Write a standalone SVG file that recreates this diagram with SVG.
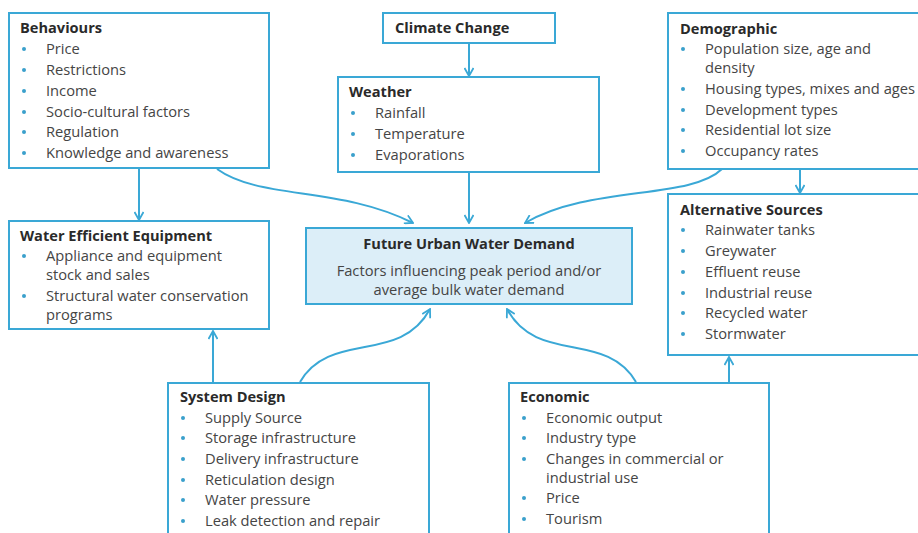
<svg xmlns="http://www.w3.org/2000/svg" width="918" height="533" viewBox="0 0 918 533">
<defs>
<style>
.box{fill:#ffffff;stroke:#3aa8d6;stroke-width:2}
.main{fill:#dceef8;stroke:#3aa8d6;stroke-width:2}
.t{font-family:"Open Sans","Liberation Sans",sans-serif;font-size:14.6px;font-weight:bold;fill:#2a2a2a}
.i{font-family:"Open Sans","Liberation Sans",sans-serif;font-size:14.7px;fill:#454545}
.c{text-anchor:middle}
.b{fill:#3aa0cc}
.con{fill:none;stroke:#3aa8d6;stroke-width:2}
</style>
<marker id="ah" viewBox="0 0 10 10" refX="9" refY="5" markerWidth="10" markerHeight="10" markerUnits="userSpaceOnUse" orient="auto">
<path d="M1,0.5 L9,5 L1,9.5" fill="none" stroke="#3aa8d6" stroke-width="1.8"/>
</marker>
</defs>
<rect width="918" height="533" fill="#ffffff"/>

<g id="connectors">
<line class="con" x1="469" y1="43" x2="469" y2="76" marker-end="url(#ah)"/>
<line class="con" x1="139" y1="168" x2="139" y2="220" marker-end="url(#ah)"/>
<line class="con" x1="800" y1="169" x2="800" y2="193" marker-end="url(#ah)"/>
<line class="con" x1="469" y1="172" x2="469" y2="223" marker-end="url(#ah)"/>
<path class="con" d="M217,169 C260,200 340,186 413,223" marker-end="url(#ah)"/>
<path class="con" d="M722,169 C690,200 590,185 525,223" marker-end="url(#ah)"/>
<path class="con" d="M300,382 C330,330 400,365 430,309" marker-end="url(#ah)"/>
<path class="con" d="M636,382 C606,330 537,365 507,309" marker-end="url(#ah)"/>
<line class="con" x1="213" y1="382" x2="213" y2="331" marker-end="url(#ah)"/>
<line class="con" x1="729" y1="382" x2="729" y2="357" marker-end="url(#ah)"/>
</g>

<g id="behaviours">
<rect class="box" x="9" y="13" width="260" height="155"/>
<text class="t" x="20" y="33">Behaviours</text>
<g class="b"><circle cx="24" cy="49" r="2"/><circle cx="24" cy="70" r="2"/><circle cx="24" cy="91" r="2"/><circle cx="24" cy="112" r="2"/><circle cx="24" cy="132" r="2"/><circle cx="24" cy="153" r="2"/></g>
<text class="i" x="46" y="54">Price</text>
<text class="i" x="46" y="75">Restrictions</text>
<text class="i" x="46" y="96">Income</text>
<text class="i" x="46" y="117">Socio-cultural factors</text>
<text class="i" x="46" y="137">Regulation</text>
<text class="i" x="46" y="158">Knowledge and awareness</text>
</g>

<g id="climate">
<rect class="box" x="383" y="13" width="172" height="30"/>
<text class="t" x="395" y="33">Climate Change</text>
</g>

<g id="weather">
<rect class="box" x="338" y="77" width="261" height="95"/>
<text class="t" x="349" y="97">Weather</text>
<g class="b"><circle cx="353" cy="113" r="2"/><circle cx="353" cy="134" r="2"/><circle cx="353" cy="155" r="2"/></g>
<text class="i" x="375" y="118">Rainfall</text>
<text class="i" x="375" y="139">Temperature</text>
<text class="i" x="375" y="160">Evaporations</text>
</g>

<g id="demographic">
<rect class="box" x="668" y="13" width="262" height="156"/>
<text class="t" x="680" y="34">Demographic</text>
<g class="b"><circle cx="683" cy="49" r="2"/><circle cx="683" cy="89" r="2"/><circle cx="683" cy="110" r="2"/><circle cx="683" cy="130" r="2"/><circle cx="683" cy="151" r="2"/></g>
<text class="i" x="705" y="54">Population size, age and</text>
<text class="i" x="705" y="73">density</text>
<text class="i" x="705" y="94">Housing types, mixes and ages</text>
<text class="i" x="705" y="115">Development types</text>
<text class="i" x="705" y="135">Residential lot size</text>
<text class="i" x="705" y="156">Occupancy rates</text>
</g>

<g id="water-efficient">
<rect class="box" x="9" y="221" width="260" height="108"/>
<text class="t" x="20" y="241">Water Efficient Equipment</text>
<g class="b"><circle cx="24" cy="256" r="2"/><circle cx="24" cy="296" r="2"/></g>
<text class="i" x="46" y="261">Appliance and equipment</text>
<text class="i" x="46" y="280">stock and sales</text>
<text class="i" x="46" y="301">Structural water conservation</text>
<text class="i" x="46" y="320">programs</text>
</g>

<g id="future-demand">
<rect class="main" x="306" y="228" width="326" height="76"/>
<text class="t c" x="469" y="249">Future Urban Water Demand</text>
<text class="i c" x="469" y="276">Factors influencing peak period and/or</text>
<text class="i c" x="469" y="295">average bulk water demand</text>
</g>

<g id="alternative">
<rect class="box" x="668" y="194" width="262" height="161"/>
<text class="t" x="680" y="215">Alternative Sources</text>
<g class="b"><circle cx="683" cy="230" r="2"/><circle cx="683" cy="251" r="2"/><circle cx="683" cy="272" r="2"/><circle cx="683" cy="293" r="2"/><circle cx="683" cy="313" r="2"/><circle cx="683" cy="334" r="2"/></g>
<text class="i" x="705" y="235">Rainwater tanks</text>
<text class="i" x="705" y="256">Greywater</text>
<text class="i" x="705" y="277">Effluent reuse</text>
<text class="i" x="705" y="298">Industrial reuse</text>
<text class="i" x="705" y="318">Recycled water</text>
<text class="i" x="705" y="339">Stormwater</text>
</g>

<g id="system-design">
<rect class="box" x="168" y="383" width="261" height="160"/>
<text class="t" x="180" y="402">System Design</text>
<g class="b"><circle cx="183" cy="418" r="2"/><circle cx="183" cy="438" r="2"/><circle cx="183" cy="459" r="2"/><circle cx="183" cy="480" r="2"/><circle cx="183" cy="500" r="2"/><circle cx="183" cy="521" r="2"/></g>
<text class="i" x="205" y="423">Supply Source</text>
<text class="i" x="205" y="443">Storage infrastructure</text>
<text class="i" x="205" y="464">Delivery infrastructure</text>
<text class="i" x="205" y="485">Reticulation design</text>
<text class="i" x="205" y="505">Water pressure</text>
<text class="i" x="205" y="526">Leak detection and repair</text>
</g>

<g id="economic">
<rect class="box" x="509" y="383" width="260" height="160"/>
<text class="t" x="520" y="402">Economic</text>
<g class="b"><circle cx="524" cy="418" r="2"/><circle cx="524" cy="438" r="2"/><circle cx="524" cy="459" r="2"/><circle cx="524" cy="498" r="2"/><circle cx="524" cy="519" r="2"/></g>
<text class="i" x="546" y="423">Economic output</text>
<text class="i" x="546" y="443">Industry type</text>
<text class="i" x="546" y="464">Changes in commercial or</text>
<text class="i" x="546" y="483">industrial use</text>
<text class="i" x="546" y="503">Price</text>
<text class="i" x="546" y="524">Tourism</text>
</g>
</svg>
